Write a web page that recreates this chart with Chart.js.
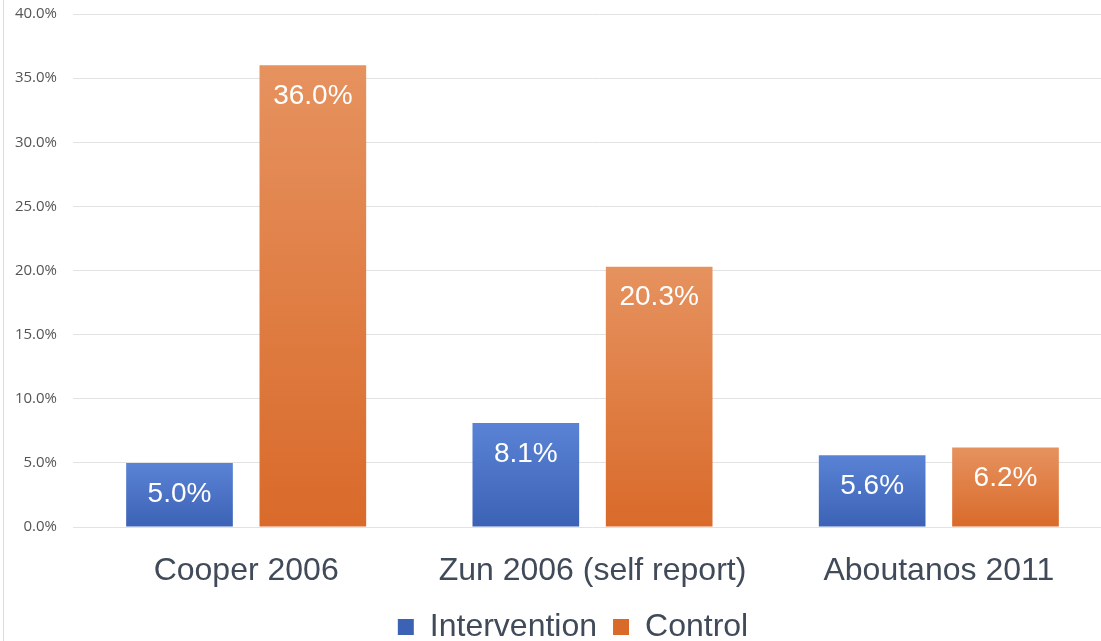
<!DOCTYPE html>
<html>
<head>
<meta charset="utf-8">
<script src="https://cdn.jsdelivr.net/npm/chart.js@4"></script>
<style>
  html, body { margin: 0; padding: 0; background: #fff; overflow: hidden; }
  #wrap { position: relative; width: 1112px; height: 641px; }
  #edge { position: absolute; left: 3px; top: 0; width: 1px; height: 641px; background: #dcdcdc; }
</style>
</head>
<body>
<div id="wrap">
  <canvas id="chart"></canvas>
  <div id="edge"></div>
</div>
<script>
const studies = ["Cooper 2006", "Zun 2006 (self report)", "Aboutanos 2011"];
const intervention = [5.0, 8.1, 5.6];
const control = [36.0, 20.3, 6.2];
const yTicks = [0, 5, 10, 15, 20, 25, 30, 35, 40];

// vertical gradient per bar, lighter at the top
function barFill(topColor, bottomColor, solid) {
  return ctx => {
    const chart = ctx.chart;
    if (ctx.type !== "data" || !chart.chartArea) return solid;
    const y = chart.scales.y;
    const g = chart.ctx.createLinearGradient(0, y.getPixelForValue(ctx.raw), 0, y.getPixelForValue(0));
    g.addColorStop(0, topColor);
    g.addColorStop(1, bottomColor);
    return g;
  };
}

const valueLabels = {
  id: "valueLabels",
  afterDatasetsDraw(chart) {
    const c = chart.ctx;
    c.save();
    c.fillStyle = "#ffffff";
    c.font = "28px 'Liberation Sans', Arial, sans-serif";
    c.textAlign = "center";
    c.textBaseline = "middle";
    chart.data.datasets.forEach((ds, i) => {
      chart.getDatasetMeta(i).data.forEach((bar, j) => {
        c.fillText(ds.data[j].toFixed(1) + "%", bar.x, bar.y + 31);
      });
    });
    c.restore();
  }
};

// nudge the legend a little right and down, like the original
const shiftLegend = {
  id: "shiftLegend",
  afterLayout(chart) {
    const lg = chart.legend;
    lg.left += 17; lg.right += 17;
    lg.top += 12; lg.bottom += 12;
    chart.scales.x.bottom += 20; // room for descenders of the category labels
  }
};

new Chart(document.getElementById("chart").getContext("2d"), {
  type: "bar",
  data: {
    labels: studies,
    datasets: [{
      label: "Intervention",
      data: intervention,
      backgroundColor: barFill("#5a83d5", "#3c62b5", "#4472c4"),
      categoryPercentage: 0.77,
      barPercentage: 0.8
    }, {
      label: "Control",
      data: control,
      backgroundColor: barFill("#e6925f", "#d96a2a", "#ed7d31"),
      categoryPercentage: 0.77,
      barPercentage: 0.8
    }]
  },
  options: {
    responsive: true,
    maintainAspectRatio: false,
    animation: false,
    layout: { padding: 0 },
    plugins: {
      legend: {
        position: "bottom",
        labels: {
          boxWidth: 16,
          boxHeight: 16,
          padding: 16,
          color: "#404a58",
          font: { family: "'Liberation Sans', Arial, sans-serif", size: 32 }
        }
      },
      tooltip: { enabled: false }
    },
    scales: {
      x: {
        grid: { display: false },
        border: { display: false },
        ticks: {
          color: "#404a58",
          padding: 17,
          font: { family: "'Liberation Sans', Arial, sans-serif", size: 32 }
        },
        afterFit(scale) { scale.height = 56; }
      },
      y: {
        min: 0,
        max: 40,
        afterBuildTicks(scale) { scale.ticks = yTicks.map(v => ({ value: v })); },
        afterFit(scale) {
          scale.width = 73;
          scale.paddingTop = 14;
          scale.paddingBottom = 10;
        },
        grid: { color: "#e2e2e2", drawTicks: false },
        border: { display: false },
        ticks: {
          padding: 16,
          color: "#555555",
          font: { family: "'Open Sans', sans-serif", size: 15 },
          callback: v => v.toFixed(1) + "%"
        }
      }
    }
  },
  plugins: [valueLabels, shiftLegend]
});
</script>
</body>
</html>
